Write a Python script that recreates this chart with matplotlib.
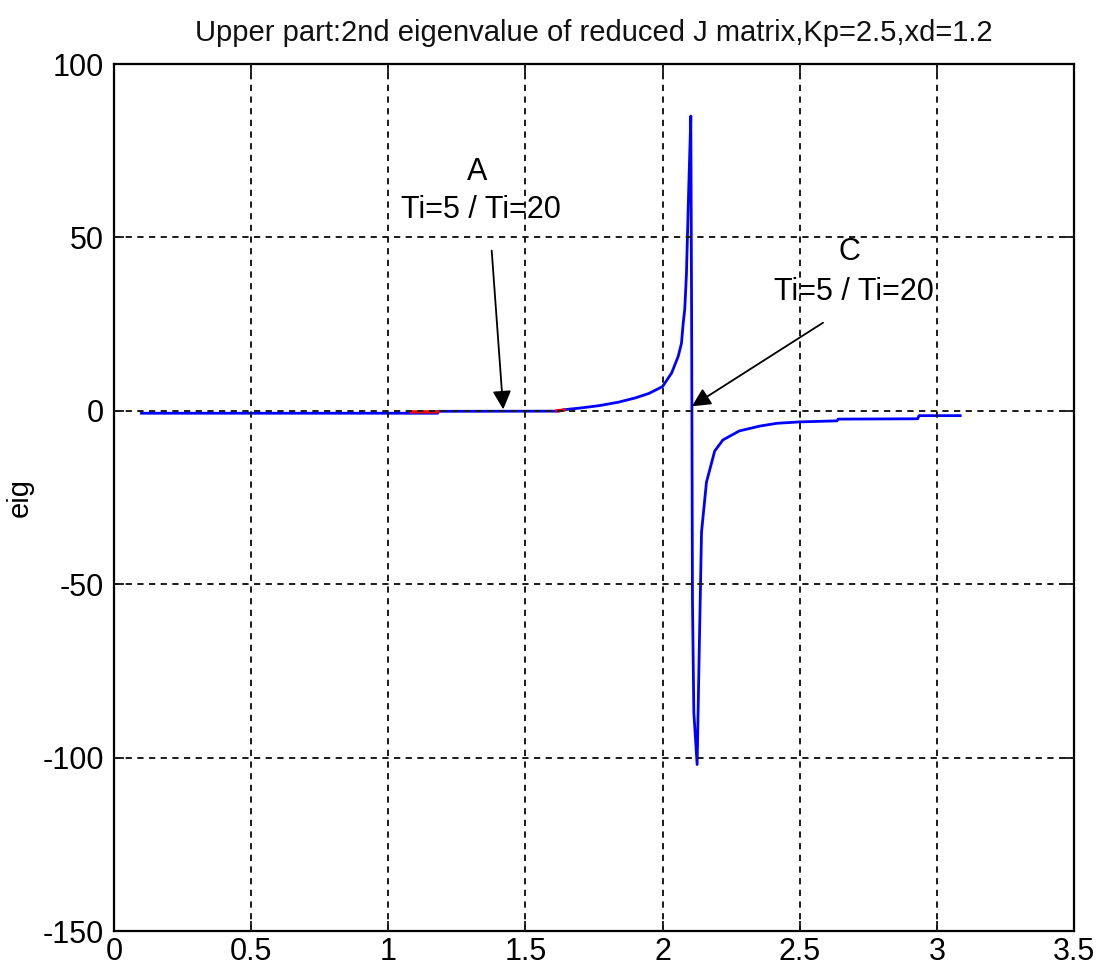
import matplotlib
matplotlib.use("Agg")
import matplotlib.pyplot as plt
from matplotlib import font_manager
import numpy as np

# Eigenvalue trace (Ti=20, blue) sampled along the parameter sweep
x_ti20 = [0.10, 1.09, 1.18, 1.18, 1.62, 1.64, 1.70, 1.77, 1.84, 1.90, 1.95, 2.00,
          2.033, 2.057, 2.069, 2.075, 2.081, 2.087, 2.096, 2.103, 2.106,
          2.109, 2.114, 2.126, 2.133, 2.142, 2.16, 2.19, 2.22, 2.28, 2.355,
          2.417, 2.50, 2.636, 2.64, 2.93, 2.935, 3.085]
y_ti20 = [-0.7, -0.7, -0.7, -0.15, -0.1, 0.3, 0.8, 1.5, 2.5, 3.7, 5.0, 7.0,
          10.9, 15.7, 19.5, 25.1, 29.4, 39.4, 66.0, 85.0, 25.0,
          -55.0, -87.0, -102.0, -72.0, -35.0, -20.6, -11.6, -8.4, -5.8, -4.4,
          -3.6, -3.2, -2.9, -2.4, -2.3, -1.4, -1.4]

# Eigenvalue trace (Ti=5, red), visible only where it separates from Ti=20
x_ti5 = [1.085, 1.18, np.nan, 1.615, 1.64]
y_ti5 = [-0.3, -0.3, np.nan, 0.0, 0.2]

x_ticks = [0, 0.5, 1, 1.5, 2, 2.5, 3, 3.5]
x_tick_labels = ["0", "0.5", "1", "1.5", "2", "2.5", "3", "3.5"]
y_ticks = [-150, -100, -50, 0, 50, 100]
y_tick_labels = ["-150", "-100", "-50", "0", "50", "100"]

title_text = "Upper part:2nd eigenvalue of reduced J matrix,Kp=2.5,xd=1.2"
label_a = "A"
label_c = "C"
label_ti = "Ti=5 / Ti=20"


def pick_family():
    for name in ["Liberation Sans Narrow", "DejaVu Sans Condensed", "Liberation Sans"]:
        try:
            font_manager.findfont(font_manager.FontProperties(family=name),
                                  fallback_to_default=False)
            return name
        except Exception:
            continue
    return "DejaVu Sans"


family = pick_family()
plt.rcParams["font.family"] = [family, "DejaVu Sans"]

fig = plt.figure(figsize=(11.0, 9.77), dpi=100)
ax = fig.add_axes([114 / 1100, 1 - 931 / 977, 960 / 1100, 867 / 977])

ax.plot(x_ti20, y_ti20, color="#0000ff", lw=2.0, zorder=3)
ax.plot(x_ti5, y_ti5, color="#ff0000", lw=2.4, zorder=4)

ax.set_xlim(0, 3.5)
ax.set_ylim(-150, 100)
ax.set_xticks(x_ticks)
ax.set_xticklabels(x_tick_labels)
ax.set_yticks(y_ticks)
ax.set_yticklabels(y_tick_labels)

tick_size = 22
ax.tick_params(axis="both", direction="in", length=7, width=1.2,
               top=True, right=True, labelsize=tick_size, color="black")
ax.tick_params(axis="x", pad=4)
ax.tick_params(axis="y", pad=7)

for sp in ax.spines.values():
    sp.set_linewidth(1.6)
    sp.set_color("black")

# dotted grid drawn over the curves
for xv in x_ticks[1:-1]:
    ax.axvline(xv, color="#1a1a1a", lw=1.4, ls=(0, (3.2, 2.8)), zorder=5)
for yv in y_ticks[1:-1]:
    ax.axhline(yv, color="#1a1a1a", lw=1.4, ls=(0, (3.2, 2.8)), zorder=5)

ax.text(0.5, 1.036, title_text, transform=ax.transAxes, ha="center",
        va="center", fontsize=21, color="#111111")

ax.set_ylabel("eig", fontsize=21)
ax.yaxis.set_label_coords(-0.084, 0.5)

text_size = 22
ax.text(1.323, 68.8, label_a, ha="center", va="center", fontsize=text_size)
ax.text(1.338, 57.8, label_ti, ha="center", va="center", fontsize=text_size)
ax.text(2.683, 45.7, label_c, ha="center", va="center", fontsize=text_size)
ax.text(2.698, 34.3, label_ti, ha="center", va="center", fontsize=text_size)

arrow_props = dict(arrowstyle="-|>", color="black", lw=1.3,
                   mutation_scale=28, shrinkA=0, shrinkB=0)
ax.annotate("", xy=(1.419, 0.4), xytext=(1.377, 46.2), arrowprops=arrow_props,
            zorder=6)
ax.annotate("", xy=(2.107, 1.3), xytext=(2.585, 25.4), arrowprops=arrow_props,
            zorder=6)

fig.savefig("out.png", dpi=100)
